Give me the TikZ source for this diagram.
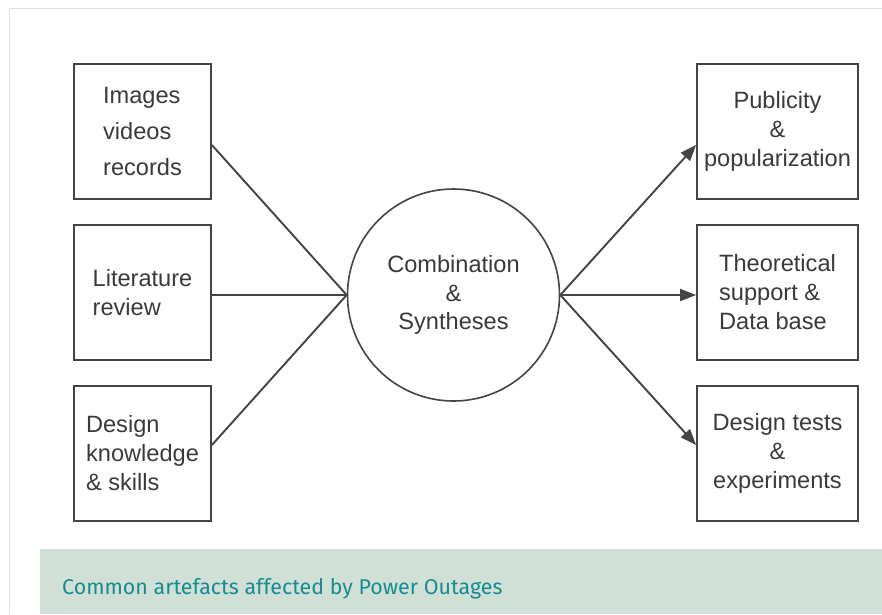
\documentclass[tikz,border=0pt]{standalone}
\usepackage{fontspec}
\setmainfont{Liberation Sans}
\newfontfamily\capfont{Fira Sans}
\usetikzlibrary{arrows.meta}
\definecolor{framegreen}{HTML}{D6E6DE}
\definecolor{bandgreen}{HTML}{D0E0D7}
\definecolor{capteal}{HTML}{168C8E}
\definecolor{linegray}{HTML}{444444}
\definecolor{textgray}{HTML}{3A3A3A}
\tikzset{
  boxnode/.style={draw=linegray, line width=1.8pt, minimum width=137pt, minimum height=135pt,
    inner sep=0pt, text=textgray, font=\fontsize{23.6}{29}\selectfont},
  hubnode/.style={draw=linegray, line width=1.6pt, circle, minimum size=212pt, inner sep=0pt,
    text=textgray, font=\fontsize{23.6}{28.5}\selectfont, align=center},
  link/.style={draw=linegray, line width=1.9pt},
  arrowlink/.style={link, -{Triangle[length=16pt,width=12pt]}}
}
\begin{document}
\begin{tikzpicture}[x=1pt,y=-1pt]
\useasboundingbox (0,0) rectangle (882,614);
\fill[white] (0,0) rectangle (882,614);
% frame
\draw[framegreen, line width=1.5pt] (9.5,614) -- (9.5,8.5) -- (882,8.5);
% caption band
\fill[bandgreen] (40,549) rectangle (882,614);
\node[anchor=base west, inner sep=0pt, text=capteal, font=\capfont\fontsize{21.4}{24}\selectfont] (cap) at (62,594) {Common artefacts affected by Power Outages};
% left boxes
\node[boxnode, align=left, font=\fontsize{23.6}{36}\selectfont] (l1) at (142.5,131.5) {Images\\videos\\records};
\node[boxnode, align=left] (l2) at (142.5,292.5) {Literature\\review};
\node[boxnode, align=left] (l3) at (142.5,453.5) {Design\\knowledge\\\& skills};
% right boxes
\node[boxnode, minimum width=161pt, align=center] (r1) at (777.5,131.5) {Publicity\\\&\\popularization};
\node[boxnode, minimum width=161pt, align=left] (r2) at (777.5,292.5) {Theoretical\\support \&\\Data base};
\node[boxnode, minimum width=161pt, align=center] (r3) at (777.5,453.5) {Design tests\\\&\\experiments};
% hub
\node[hubnode] (hub) at (453.5,295) {Combination\\\&\\Syntheses};
\coordinate (hw) at (hub.west);
\coordinate (he) at (hub.east);
% connectors
\draw[link] (l1.east |- 0,145) -- (hw);
\draw[link] (l2.east |- 0,295) -- (hw);
\draw[link] (l3.east |- 0,445) -- (hw);
\draw[arrowlink] (he) -- (r1.west |- 0,145);
\draw[arrowlink] (he) -- (r2.west |- 0,295);
\draw[arrowlink] (he) -- (r3.west |- 0,445);
\end{tikzpicture}
\end{document}
